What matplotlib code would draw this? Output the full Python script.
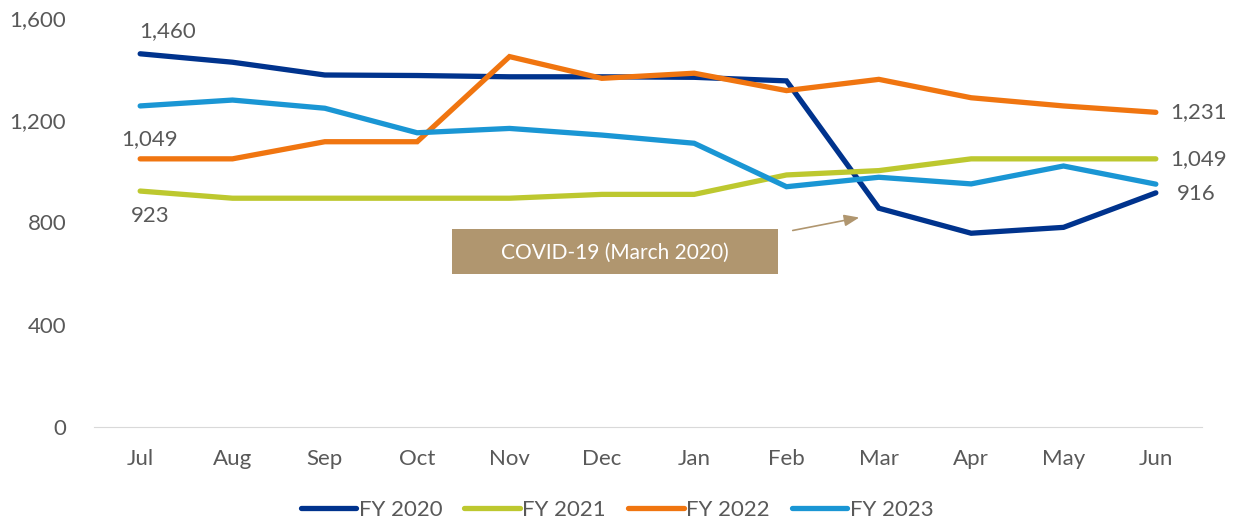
import numpy as np
import matplotlib.pyplot as plt

plt.rcParams['font.family'] = ['Lato', 'DejaVu Sans']

months = ['Jul', 'Aug', 'Sep', 'Oct', 'Nov', 'Dec', 'Jan', 'Feb', 'Mar', 'Apr', 'May', 'Jun']

fy2020 = [1460, 1427, 1377, 1375, 1370, 1370, 1368, 1354, 856, 758, 781, 916]
fy2021 = [923, 895, 895, 895, 895, 910, 910, 986, 1003, 1049, 1049, 1049]
fy2022 = [1049, 1049, 1116, 1116, 1449, 1364, 1384, 1316, 1360, 1288, 1256, 1231]
fy2023 = [1256, 1279, 1247, 1151, 1168, 1142, 1110, 940, 977, 951, 1021, 950]

series = [('FY 2020', fy2020, '#00338D'),
          ('FY 2021', fy2021, '#BDC82F'),
          ('FY 2022', fy2022, '#F07510'),
          ('FY 2023', fy2023, '#1A96D4')]

grey = '#595959'
fs = 16

fig = plt.figure(figsize=(12.34, 5.23), dpi=100)
ax = fig.add_axes([94 / 1234, 1 - 427 / 523, (1202 - 94) / 1234, (427 - 18) / 523])

x = np.arange(len(months))
for name, vals, col in series:
    ax.plot(x, vals, color=col, lw=3.8, label=name, solid_capstyle='round', solid_joinstyle='miter')

ax.set_xlim(-0.5, len(months) - 0.5)
ax.set_ylim(0, 1600)
ax.set_yticks([0, 400, 800, 1200, 1600])
ax.set_yticklabels(['{:,}'.format(v) for v in [0, 400, 800, 1200, 1600]])
ax.set_xticks(x)
ax.set_xticklabels(months)
ax.tick_params(axis='both', length=0, labelsize=fs, labelcolor=grey)
ax.tick_params(axis='x', pad=16)
ax.tick_params(axis='y', pad=20)
for s in ['top', 'right', 'left']:
    ax.spines[s].set_visible(False)
ax.spines['bottom'].set_color('#D9D9D9')

# data labels
ax.annotate('{:,}'.format(fy2020[0]), (0, fy2020[0]), xytext=(20, 16), textcoords='offset points',
            ha='center', va='center', fontsize=fs, color=grey)
ax.annotate('{:,}'.format(fy2022[0]), (0, fy2022[0]), xytext=(7, 14), textcoords='offset points',
            ha='center', va='center', fontsize=fs, color=grey)
ax.annotate('{:,}'.format(fy2021[0]), (0, fy2021[0]), xytext=(7, -18), textcoords='offset points',
            ha='center', va='center', fontsize=fs, color=grey)
ax.annotate('{:,}'.format(fy2022[-1]), (11, fy2022[-1]), xytext=(10, 0), textcoords='offset points',
            ha='left', va='center', fontsize=fs, color=grey)
ax.annotate('{:,}'.format(fy2021[-1]), (11, fy2021[-1]), xytext=(10, 0), textcoords='offset points',
            ha='left', va='center', fontsize=fs, color=grey)
ax.annotate('{:,}'.format(fy2020[-1]), (11, fy2020[-1]), xytext=(15, -1), textcoords='offset points',
            ha='left', va='center', fontsize=fs, color=grey)

# COVID box and arrow
box = plt.Rectangle((452 / 1234, 1 - 274 / 523), 326 / 1234, 45 / 523, transform=fig.transFigure,
                    facecolor='#B0966F', edgecolor='none', clip_on=False, zorder=3)
ax.add_patch(box)
ax.text(615 / 1234, 1 - 253 / 523, 'COVID-19 (March 2020)', transform=fig.transFigure,
        ha='center', va='center', fontsize=15, color='white', zorder=4)
ax.annotate('', xy=(862 / 1234, 1 - 217 / 523), xycoords='figure fraction',
            xytext=(790 / 1234, 1 - 231 / 523), textcoords='figure fraction',
            arrowprops=dict(arrowstyle='-|>,head_length=0.9,head_width=0.35', color='#B0966F', lw=1.2))

fig.legend(loc='center', bbox_to_anchor=(0.5, 1 - 510 / 523), ncol=4, frameon=False,
           fontsize=fs, labelcolor=grey, handlelength=2.5, handletextpad=0.1, columnspacing=1.0)

fig.savefig('out.png', dpi=100)
